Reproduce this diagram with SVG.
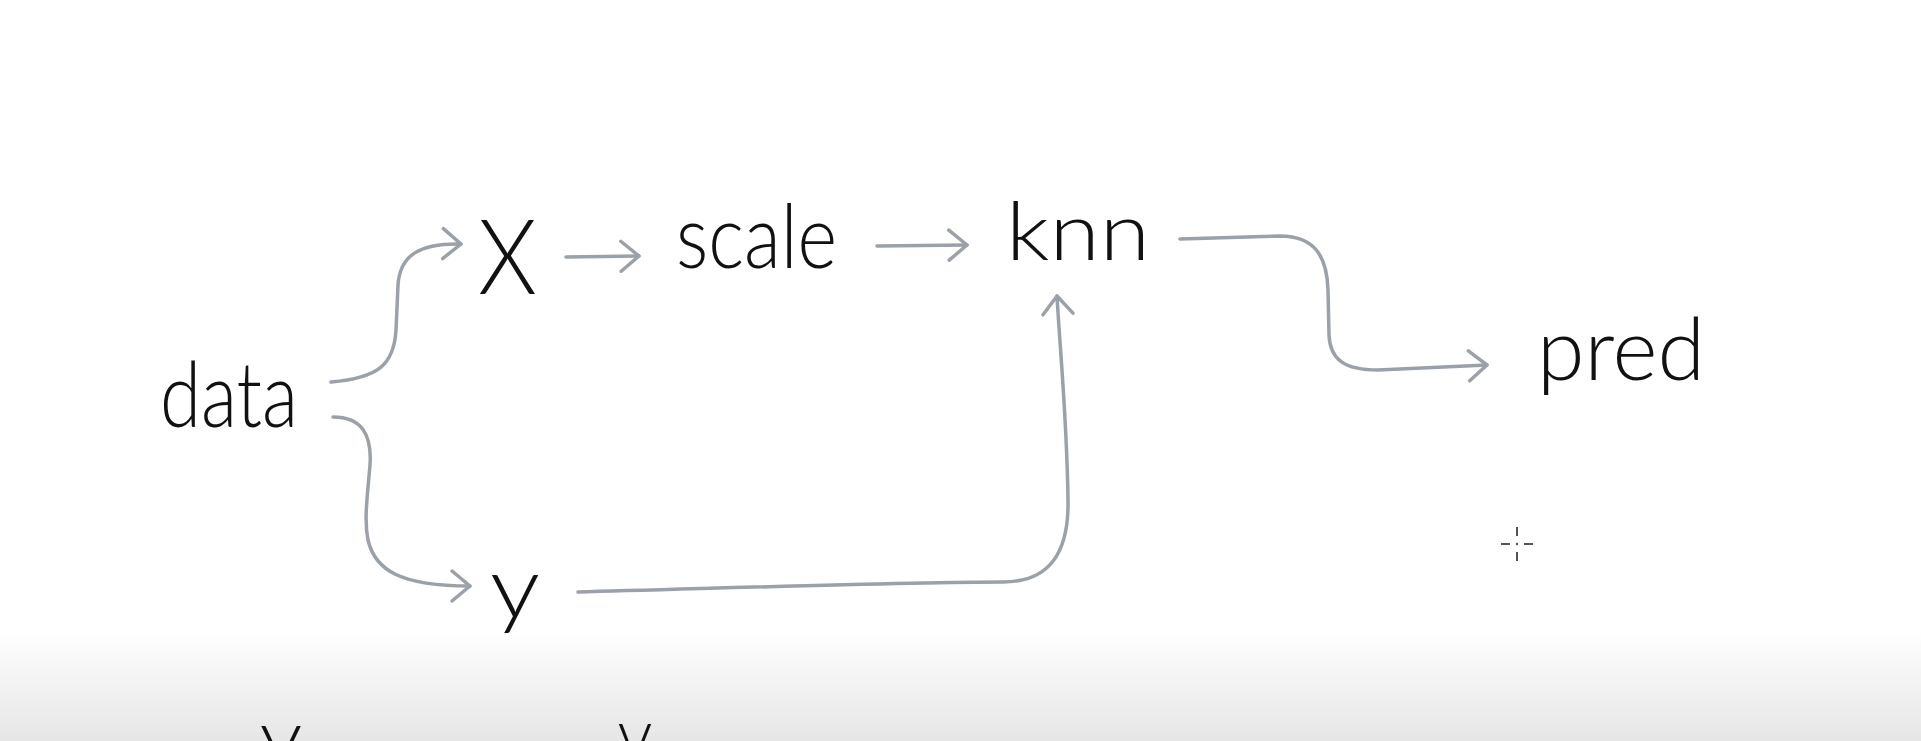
<svg xmlns="http://www.w3.org/2000/svg" width="1921" height="741" viewBox="0 0 1921 741">
  <defs>
    <linearGradient id="band" x1="0" y1="0" x2="0" y2="1">
      <stop offset="0" stop-color="#ffffff"/>
      <stop offset="1" stop-color="#e6e6e6"/>
    </linearGradient>
    <marker id="chev" markerUnits="userSpaceOnUse" viewBox="-22 -18 26 36" refX="0" refY="0" markerWidth="26" markerHeight="36" orient="auto">
      <path d="M-18,-15 L0,0 L-18,15" fill="none" stroke="#9ba1a9" stroke-width="3.5" stroke-linecap="round" stroke-linejoin="round"/>
    </marker>
    <style>
      .lbl { font-family: "Lato", "Liberation Sans", sans-serif; font-weight: 300; fill: #111; }
      .conn { fill: none; stroke: #9ba1a9; stroke-width: 3.5; stroke-linecap: round; stroke-linejoin: round; marker-end: url(#chev); }
      .cross { stroke: #555; stroke-width: 2; }
    </style>
  </defs>
  <rect x="0" y="0" width="1921" height="741" fill="#ffffff"/>
  <rect x="0" y="630" width="1921" height="111" fill="url(#band)"/>

  <g id="connectors">
    <path class="conn" d="M331,382 C378,378 394,365 396,330 L398,285 C400,255 420,243 461,244"/>
    <path class="conn" d="M333,417 C362,417 372,435 370,465 C367,500 364,520 368,540 C375,570 400,586 470,586"/>
    <path class="conn" d="M566,257 L639,256"/>
    <path class="conn" d="M877,246 L967,245"/>
    <path class="conn" d="M578,592 C700,589 900,582 1003,582 C1050,582 1069,552 1068,500 C1067,420 1060,350 1057,296"/>
    <path class="conn" d="M1180,239 L1280,236 C1316,236 1327,258 1328,290 L1329,335 C1330,360 1345,370 1378,370 L1487,365"/>
  </g>

  <g id="node-data"><text class="lbl" x="160" y="427" font-size="90" textLength="138" lengthAdjust="spacingAndGlyphs">data</text></g>
  <g id="node-X"><text class="lbl" x="478" y="294" font-size="105" textLength="59" lengthAdjust="spacingAndGlyphs">X</text></g>
  <g id="node-scale"><text class="lbl" x="676" y="268" font-size="88" textLength="161" lengthAdjust="spacingAndGlyphs">scale</text></g>
  <g id="node-knn"><text class="lbl" x="1006" y="260" font-size="80" textLength="144" lengthAdjust="spacingAndGlyphs">knn</text></g>
  <g id="node-y"><text class="lbl" x="490" y="618" font-size="86" textLength="50" lengthAdjust="spacingAndGlyphs">y</text></g>
  <g id="node-pred"><text class="lbl" x="1537" y="380" font-size="86" textLength="168" lengthAdjust="spacingAndGlyphs">pred</text></g>

  <g id="cursor">
    <line class="cross" x1="1517" y1="527" x2="1517" y2="536"/>
    <line class="cross" x1="1517" y1="552" x2="1517" y2="561"/>
    <line class="cross" x1="1501" y1="544" x2="1510" y2="544"/>
    <line class="cross" x1="1524" y1="544" x2="1533" y2="544"/>
    <circle cx="1517" cy="544" r="1.2" fill="#555"/>
  </g>

  <g id="clipped-bottom">
    <text class="lbl" x="259" y="800" font-size="105" textLength="44" lengthAdjust="spacingAndGlyphs">X</text>
    <text class="lbl" x="617" y="798" font-size="105" textLength="36" lengthAdjust="spacingAndGlyphs">X</text>
  </g>
</svg>
